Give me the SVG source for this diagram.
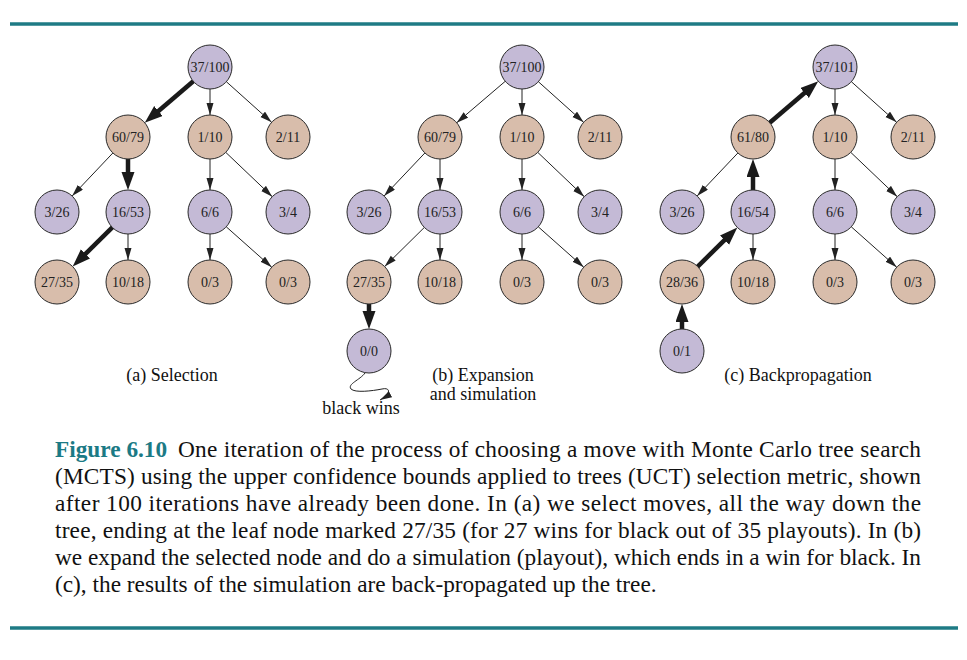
<svg xmlns="http://www.w3.org/2000/svg" width="967" height="660" viewBox="0 0 967 660">
<style>
  .p { fill: #c4bad6; stroke: #2a2a2a; stroke-width: 1; }
  .t { fill: #d8bdab; stroke: #2a2a2a; stroke-width: 1; }
  .lbl { font-family: "Liberation Serif", "Times New Roman", serif; font-size: 14px; fill: #222; text-anchor: middle; }
  .cap { font-family: "Liberation Serif", "Times New Roman", serif; font-size: 18px; fill: #111; text-anchor: middle; }
  .thin { stroke: #222; stroke-width: 1; fill: none; marker-end: url(#ah); }
  .thick { stroke: #1a1a1a; stroke-width: 4.5; fill: none; marker-end: url(#ahb); }
  .body { font-family: "Liberation Serif", "Times New Roman", serif; font-size: 23.3px; fill: #111; }
  .fig { font-family: "Liberation Serif", "Times New Roman", serif; font-size: 23.3px; font-weight: bold; fill: #1b7a85; }
  .rule { stroke: #1e7b85; stroke-width: 3.5; }
</style>
<defs>
  <marker id="ah" markerUnits="userSpaceOnUse" markerWidth="12" markerHeight="8" refX="12" refY="3.5" orient="auto">
    <path d="M0,0 L12,3.5 L0,7 z" fill="#222"/>
  </marker>
  <marker id="ahb" markerUnits="userSpaceOnUse" markerWidth="19" markerHeight="14" refX="6" refY="6.5" orient="auto">
    <path d="M0,0 L18,6.5 L0,13 z" fill="#1a1a1a"/>
  </marker>
</defs>
<rect width="967" height="660" fill="#ffffff"/>
<line class="rule" x1="10" y1="24" x2="958" y2="24"/>
<line class="rule" x1="10" y1="628" x2="958" y2="628"/>

<g id="connectors">
  <!-- (a) Selection -->
  <line class="thick" x1="193.27" y1="81.28" x2="153.86" y2="114.93"/>
  <line class="thin" x1="210" y1="89" x2="210" y2="115"/>
  <line class="thin" x1="226.37" y1="81.69" x2="271.63" y2="122.31"/>
  <line class="thin" x1="112.88" y1="152.98" x2="72.12" y2="196.02"/>
  <line class="thick" x1="128" y1="159" x2="128" y2="178"/>
  <line class="thin" x1="210" y1="159" x2="210" y2="190"/>
  <line class="thin" x1="225.76" y1="152.35" x2="272.24" y2="196.65"/>
  <line class="thick" x1="112.33" y1="227.45" x2="81.22" y2="258.12"/>
  <line class="thin" x1="128" y1="234" x2="128" y2="260"/>
  <line class="thin" x1="210" y1="234" x2="210" y2="260"/>
  <line class="thin" x1="226.28" y1="226.80" x2="271.72" y2="267.20"/>
  <!-- (b) Expansion and simulation -->
  <line class="thin" x1="505.27" y1="81.28" x2="456.73" y2="122.72"/>
  <line class="thin" x1="522" y1="89" x2="522" y2="115"/>
  <line class="thin" x1="538.37" y1="81.69" x2="583.63" y2="122.31"/>
  <line class="thin" x1="424.88" y1="152.98" x2="384.12" y2="196.02"/>
  <line class="thin" x1="440" y1="159" x2="440" y2="190"/>
  <line class="thin" x1="522" y1="159" x2="522" y2="190"/>
  <line class="thin" x1="537.76" y1="152.35" x2="584.24" y2="196.65"/>
  <line class="thin" x1="424.33" y1="227.45" x2="384.67" y2="266.55"/>
  <line class="thin" x1="440" y1="234" x2="440" y2="260"/>
  <line class="thin" x1="522" y1="234" x2="522" y2="260"/>
  <line class="thin" x1="538.28" y1="226.80" x2="583.72" y2="267.20"/>
  <line class="thick" x1="369" y1="304" x2="369" y2="317"/>
  <path class="thin" d="M365,373 C360,380 347,384 351,389 C355,393 372,391 382,389 C391,387 391,394 380,400"/>
  <!-- (c) Backpropagation -->
  <line class="thick" x1="769.73" y1="122.72" x2="809.14" y2="89.07"/>
  <line class="thin" x1="835" y1="89" x2="835" y2="115"/>
  <line class="thin" x1="851.37" y1="81.69" x2="896.63" y2="122.31"/>
  <line class="thin" x1="737.88" y1="152.98" x2="697.12" y2="196.02"/>
  <line class="thick" x1="753" y1="190" x2="753" y2="171"/>
  <line class="thin" x1="835" y1="159" x2="835" y2="190"/>
  <line class="thin" x1="850.76" y1="152.35" x2="897.24" y2="196.65"/>
  <line class="thick" x1="697.67" y1="266.55" x2="728.78" y2="235.88"/>
  <line class="thin" x1="753" y1="234" x2="753" y2="260"/>
  <line class="thin" x1="835" y1="234" x2="835" y2="260"/>
  <line class="thin" x1="851.28" y1="226.80" x2="896.72" y2="267.20"/>
  <line class="thick" x1="682" y1="329" x2="682" y2="316"/>
</g>

<!-- (a) nodes -->
<g id="a-root"><circle class="p" cx="210" cy="67" r="22"/><text class="lbl" x="210" y="72">37/100</text></g>
<g id="a-n6079"><circle class="t" cx="128" cy="137" r="22"/><text class="lbl" x="128" y="142">60/79</text></g>
<g id="a-n110"><circle class="t" cx="210" cy="137" r="22"/><text class="lbl" x="210" y="142">1/10</text></g>
<g id="a-n211"><circle class="t" cx="288" cy="137" r="22"/><text class="lbl" x="288" y="142">2/11</text></g>
<g id="a-n326"><circle class="p" cx="57" cy="212" r="22"/><text class="lbl" x="57" y="217">3/26</text></g>
<g id="a-n1653"><circle class="p" cx="128" cy="212" r="22"/><text class="lbl" x="128" y="217">16/53</text></g>
<g id="a-n66"><circle class="p" cx="210" cy="212" r="22"/><text class="lbl" x="210" y="217">6/6</text></g>
<g id="a-n34"><circle class="p" cx="288" cy="212" r="22"/><text class="lbl" x="288" y="217">3/4</text></g>
<g id="a-n2735"><circle class="t" cx="57" cy="282" r="22"/><text class="lbl" x="57" y="287">27/35</text></g>
<g id="a-n1018"><circle class="t" cx="128" cy="282" r="22"/><text class="lbl" x="128" y="287">10/18</text></g>
<g id="a-n03a"><circle class="t" cx="210" cy="282" r="22"/><text class="lbl" x="210" y="287">0/3</text></g>
<g id="a-n03b"><circle class="t" cx="288" cy="282" r="22"/><text class="lbl" x="288" y="287">0/3</text></g>
<text class="cap" x="172" y="381">(a) Selection</text>

<!-- (b) nodes -->
<g id="b-root"><circle class="p" cx="522" cy="67" r="22"/><text class="lbl" x="522" y="72">37/100</text></g>
<g id="b-n6079"><circle class="t" cx="440" cy="137" r="22"/><text class="lbl" x="440" y="142">60/79</text></g>
<g id="b-n110"><circle class="t" cx="522" cy="137" r="22"/><text class="lbl" x="522" y="142">1/10</text></g>
<g id="b-n211"><circle class="t" cx="600" cy="137" r="22"/><text class="lbl" x="600" y="142">2/11</text></g>
<g id="b-n326"><circle class="p" cx="369" cy="212" r="22"/><text class="lbl" x="369" y="217">3/26</text></g>
<g id="b-n1653"><circle class="p" cx="440" cy="212" r="22"/><text class="lbl" x="440" y="217">16/53</text></g>
<g id="b-n66"><circle class="p" cx="522" cy="212" r="22"/><text class="lbl" x="522" y="217">6/6</text></g>
<g id="b-n34"><circle class="p" cx="600" cy="212" r="22"/><text class="lbl" x="600" y="217">3/4</text></g>
<g id="b-n2735"><circle class="t" cx="369" cy="282" r="22"/><text class="lbl" x="369" y="287">27/35</text></g>
<g id="b-n1018"><circle class="t" cx="440" cy="282" r="22"/><text class="lbl" x="440" y="287">10/18</text></g>
<g id="b-n03a"><circle class="t" cx="522" cy="282" r="22"/><text class="lbl" x="522" y="287">0/3</text></g>
<g id="b-n03b"><circle class="t" cx="600" cy="282" r="22"/><text class="lbl" x="600" y="287">0/3</text></g>
<g id="b-n00"><circle class="p" cx="369" cy="351" r="22"/><text class="lbl" x="369" y="356">0/0</text></g>
<text class="cap" x="361" y="414">black wins</text>
<text class="cap" x="483" y="381">(b) Expansion</text>
<text class="cap" x="483" y="400">and simulation</text>

<!-- (c) nodes -->
<g id="c-root"><circle class="p" cx="835" cy="67" r="22"/><text class="lbl" x="835" y="72">37/101</text></g>
<g id="c-n6180"><circle class="t" cx="753" cy="137" r="22"/><text class="lbl" x="753" y="142">61/80</text></g>
<g id="c-n110"><circle class="t" cx="835" cy="137" r="22"/><text class="lbl" x="835" y="142">1/10</text></g>
<g id="c-n211"><circle class="t" cx="913" cy="137" r="22"/><text class="lbl" x="913" y="142">2/11</text></g>
<g id="c-n326"><circle class="p" cx="682" cy="212" r="22"/><text class="lbl" x="682" y="217">3/26</text></g>
<g id="c-n1654"><circle class="p" cx="753" cy="212" r="22"/><text class="lbl" x="753" y="217">16/54</text></g>
<g id="c-n66"><circle class="p" cx="835" cy="212" r="22"/><text class="lbl" x="835" y="217">6/6</text></g>
<g id="c-n34"><circle class="p" cx="913" cy="212" r="22"/><text class="lbl" x="913" y="217">3/4</text></g>
<g id="c-n2836"><circle class="t" cx="682" cy="282" r="22"/><text class="lbl" x="682" y="287">28/36</text></g>
<g id="c-n1018"><circle class="t" cx="753" cy="282" r="22"/><text class="lbl" x="753" y="287">10/18</text></g>
<g id="c-n03a"><circle class="t" cx="835" cy="282" r="22"/><text class="lbl" x="835" y="287">0/3</text></g>
<g id="c-n03b"><circle class="t" cx="913" cy="282" r="22"/><text class="lbl" x="913" y="287">0/3</text></g>
<g id="c-n01"><circle class="p" cx="682" cy="351" r="22"/><text class="lbl" x="682" y="356">0/1</text></g>
<text class="cap" x="798" y="381">(c) Backpropagation</text>

<!-- figure caption -->
<g id="caption">
  <text class="fig" x="55" y="457">Figure 6.10</text>
  <text class="body" x="178" y="457" textLength="743" lengthAdjust="spacing">One iteration of the process of choosing a move with Monte Carlo tree search</text>
  <text class="body" x="55" y="484" textLength="866" lengthAdjust="spacing">(MCTS) using the upper confidence bounds applied to trees (UCT) selection metric, shown</text>
  <text class="body" x="55" y="511" textLength="866" lengthAdjust="spacing">after 100 iterations have already been done.  In (a) we select moves, all the way down the</text>
  <text class="body" x="55" y="538" textLength="866" lengthAdjust="spacing">tree, ending at the leaf node marked 27/35 (for 27 wins for black out of 35 playouts). In (b)</text>
  <text class="body" x="55" y="565" textLength="866" lengthAdjust="spacing">we expand the selected node and do a simulation (playout), which ends in a win for black. In</text>
  <text class="body" x="55" y="592">(c), the results of the simulation are back-propagated up the tree.</text>
</g>
</svg>
